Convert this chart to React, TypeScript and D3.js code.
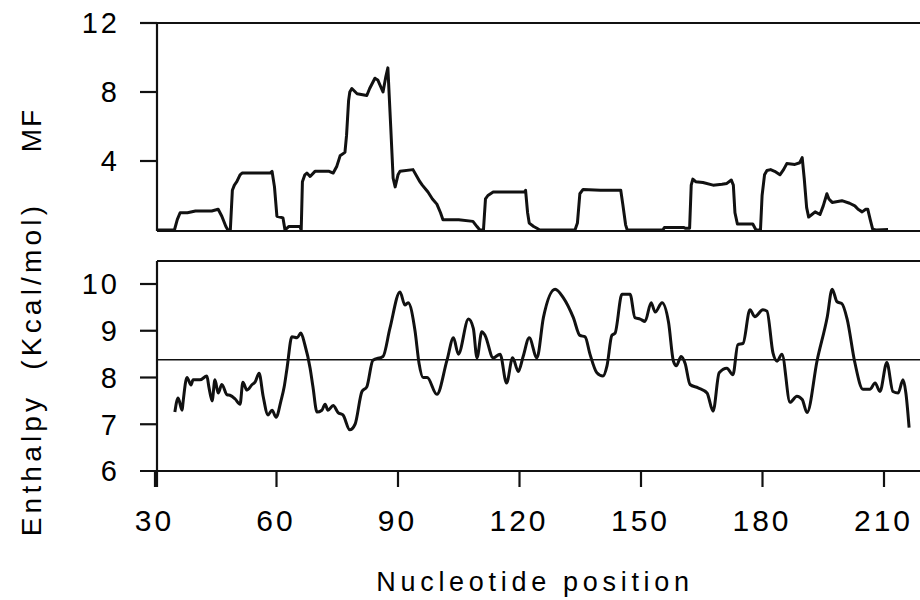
import React from "react";
import * as d3 from "d3";

// ---- Data ----
const xTicks = [30, 60, 90, 120, 150, 180, 210];
const mfTicks = [4, 8, 12];
const enthTicks = [6, 7, 8, 9, 10];
const enthalpyMean = 8.38;

const mfPos = [
  30.5, 34.8, 35.5, 36.2, 38, 40, 44, 45.6, 46.5, 47.5, 48, 48.6, 49.1, 49.6, 50.2, 51.0, 51.5, 55, 58.4, 58.9,
  59.5, 60.1, 61.6, 62.1, 63, 65.8, 66.1, 66.4, 67, 67.5, 68.3, 69.5, 73, 74, 74.9, 75.7, 76.9, 77.3, 77.8, 78.1,
  78.6, 79.9, 82.3, 83, 84.3, 85, 86.3, 87, 87.5, 88.2, 88.8, 89.3, 90, 90.5, 93.7, 95.4, 96, 97.4, 98.5, 99.6,
  100.5, 101.1, 105, 108.5, 109.5, 110.2, 111.1, 111.6, 112.2, 113.5, 117, 121.2, 121.5, 122, 122.4, 123.5, 124.3, 125, 133.7, 134.3,
  134.9, 135.7, 140, 145, 145.5, 146.2, 146.6, 155.4, 155.8, 160.5, 161, 162, 162.4, 162.8, 163.5, 165.3, 167.8, 170,
  171.2, 172.3, 172.8, 173.2, 173.8, 175, 177.6, 178.4, 179.5, 179.9, 180.5, 181.1, 182, 183, 184.3, 185.2, 186, 188, 189.2, 189.8,
  190.3, 190.9, 191.4, 192.2, 193, 194.2, 195, 195.9, 196.4, 197.2, 199.6, 201.5, 202.8, 203.6, 204.6, 205.5, 206, 206.6, 207.2, 208, 211,
];
const mfVal = [
  0, 0, 0.6, 1.0, 1.0, 1.1, 1.1, 1.2, 0.8, 0.2, 0, 0, 2.3, 2.6, 2.8, 3.2, 3.3, 3.3, 3.3, 3.4,
  2.5, 0.8, 0.7, 0, 0.2, 0.2, 0, 2.8, 3.2, 3.3, 3.1, 3.4, 3.4, 3.3, 3.7, 4.3, 4.5, 5.5, 7.5, 8.0,
  8.2, 7.9, 7.8, 8.2, 8.8, 8.7, 8.0, 8.9, 9.4, 6.0, 3.0, 2.5, 3.2, 3.4, 3.5, 2.8, 2.6, 2.2, 1.8, 1.5,
  1.0, 0.6, 0.6, 0.5, 0.2, 0, 0, 1.8, 2.0, 2.2, 2.2, 2.2, 2.3, 1.0, 0.4, 0.2, 0.1, 0, 0, 0.4,
  2.1, 2.35, 2.3, 2.3, 1.5, 0.3, 0, 0, 0.15, 0.15, 0.1, 0.1, 2.6, 2.95, 2.8, 2.75, 2.6, 2.65,
  2.7, 2.9, 2.6, 1.0, 0.35, 0.35, 0.35, 0, 0, 2.0, 3.2, 3.45, 3.5, 3.4, 3.2, 3.5, 3.85, 3.8, 3.9, 4.2,
  3.0, 1.3, 0.75, 0.9, 1.05, 0.9, 1.4, 2.1, 1.8, 1.6, 1.7, 1.55, 1.4, 1.2, 1.05, 1.2, 1.2, 0.6, 0.05, 0, 0.03,
];

const enthPos = [
  34.9, 35.7, 36.7, 36.9, 37.9, 38.9, 39.4, 41.1, 42.8, 43.3, 44.1, 44.8, 45.6, 46.5, 47.8, 48.5, 49.8, 51.0, 51.7, 52.7,
  54.0, 54.7, 55.7, 56.7, 57.9, 58.9, 59.9, 61.1, 61.9, 62.6, 63.8, 65.1, 66.0, 67.0, 68.3, 69.0, 70.0, 71.2, 72.0, 72.7,
  74.0, 75.2, 76.4, 78.1, 79.4, 81.1, 82.3, 83.8, 86.3, 88.0, 90.5, 91.7, 92.5, 94.2, 95.2, 96.2, 97.2, 99.6, 102.1, 103.7,
  104.9, 107.4, 108.6, 109.5, 110.7, 111.5, 113.5, 115.2, 116.8, 118.3, 119.7, 120.9, 122.4, 124.3, 125.9, 128.8, 130.8, 133.3, 134.9, 136.2,
  137.4, 139.1, 140.6, 141.6, 142.8, 143.6, 145.3, 147.3, 148.5, 149.8, 151.0, 152.5, 153.5, 155.2, 156.8, 158.0, 158.7, 159.9, 160.9, 162.1,
  164.1, 166.3, 167.8, 169.3, 171.2, 172.7, 173.9, 175.2, 176.9, 178.1, 180.1, 181.1, 182.6, 183.6, 184.8, 186.8, 188.5, 189.8, 191.0, 193.5,
  196.0, 197.2, 198.4, 199.6, 200.9, 202.8, 204.8, 206.5, 207.8, 209.0, 210.7, 212.2, 213.5, 214.7, 215.4, 216.2,
];
const enthVal = [
  7.26, 7.56, 7.3, 7.45, 8.0, 7.84, 7.95, 7.95, 8.03, 7.8, 7.5, 7.95, 7.67, 7.85, 7.63, 7.62, 7.54, 7.43, 7.9, 7.73,
  7.85, 7.9, 8.09, 7.6, 7.2, 7.3, 7.15, 7.5, 7.8, 8.2, 8.87, 8.85, 8.95, 8.7, 8.2, 7.8, 7.26, 7.3, 7.43, 7.3,
  7.4, 7.25, 7.2, 6.88, 7.0, 7.7, 7.8, 8.37, 8.45, 9.05, 9.83, 9.55, 9.6, 9.0, 8.3, 8.0, 8.0, 7.64, 8.37, 8.85,
  8.5, 9.25, 9.05, 8.42, 8.98, 8.9, 8.42, 8.5, 7.88, 8.42, 8.13, 8.45, 8.85, 8.42, 9.28, 9.89, 9.71, 9.28, 8.9, 8.87,
  8.5, 8.1, 8.03, 8.25, 8.9, 8.95, 9.78, 9.78, 9.28, 9.25, 9.2, 9.6, 9.4, 9.6, 9.18, 8.35, 8.25, 8.45, 8.3, 7.85,
  7.78, 7.67, 7.28, 8.1, 8.2, 8.06, 8.7, 8.73, 9.45, 9.3, 9.45, 9.42, 8.52, 8.35, 8.5, 7.47, 7.6, 7.53, 7.25, 8.37,
  9.3, 9.89, 9.62, 9.58, 9.25, 8.32, 7.75, 7.75, 7.88, 7.7, 8.32, 7.7, 7.67, 7.95, 7.67, 6.93,
];

const FONT = "'Liberation Sans', Arial, Helvetica, sans-serif";

export default function App() {
  const W = 920;
  const H = 600;
  const left = 157;
  const right = 920;
  const tickLen = 17;

  const x = d3.scaleLinear().domain([30, 210]).range([155, 884]);

  const yMF = d3.scaleLinear().domain([0, 12]).range([230, 23]);
  const yEn = d3.scaleLinear().domain([6, 10]).range([471, 284]);
  const enTop = 261;

  const mfData = mfPos.map((p, i) => [p, mfVal[i]] as [number, number]);
  const enData = enthPos.map((p, i) => [p, enthVal[i]] as [number, number]);

  const mfLine = d3
    .line<[number, number]>()
    .x((d) => x(d[0]))
    .y((d) => yMF(d[1]))
    .curve(d3.curveLinear);
  const enLine = d3
    .line<[number, number]>()
    .x((d) => x(d[0]))
    .y((d) => yEn(d[1]))
    .curve(d3.curveMonotoneX);

  const lineColor = "#111";
  const ls = 3;

  return (
    <svg
      width={W}
      height={H}
      viewBox={`0 0 ${W} ${H}`}
      style={{ position: "absolute", left: 0, top: 0, background: "#fff" }}
    >
      <rect x={0} y={0} width={W} height={H} fill="#fff" />

      {/* ---- Top panel (MF) ---- */}
      <g stroke={lineColor} strokeWidth={2.2} fill="none">
        <line x1={left} x2={right} y1={yMF(12)} y2={yMF(12)} />
        <line x1={left} x2={left} y1={yMF(12)} y2={231} />
        <line x1={left} x2={right} y1={231} y2={231} />
        {mfTicks.map((t) => (
          <line key={t} x1={left - tickLen} x2={left} y1={yMF(t)} y2={yMF(t)} />
        ))}
      </g>
      {mfTicks.map((t) => (
        <text
          key={t}
          x={117 + ls}
          y={yMF(t)}
          dy="0.36em"
          textAnchor="end"
          fontFamily={FONT}
          fontSize={29}
          letterSpacing={ls}
          fill="#000"
        >
          {t}
        </text>
      ))}
      <path d={mfLine(mfData) || ""} fill="none" stroke={lineColor} strokeWidth={3} strokeLinejoin="round" />

      {/* ---- Bottom panel (Enthalpy) ---- */}
      <g stroke={lineColor} strokeWidth={2.2} fill="none">
        <line x1={left} x2={right} y1={enTop} y2={enTop} />
        <line x1={left} x2={left} y1={enTop} y2={yEn(6) + 16} />
        <line x1={left - tickLen} x2={right} y1={yEn(6)} y2={yEn(6)} />
        {enthTicks
          .filter((t) => t !== 6)
          .map((t) => (
            <line key={t} x1={left - tickLen} x2={left} y1={yEn(t)} y2={yEn(t)} />
          ))}
        {xTicks.map((t) => (
          <line key={t} x1={x(t)} x2={x(t)} y1={yEn(6)} y2={yEn(6) + 16} />
        ))}
      </g>
      <line
        x1={left}
        x2={right}
        y1={yEn(enthalpyMean)}
        y2={yEn(enthalpyMean)}
        stroke={lineColor}
        strokeWidth={1.6}
      />
      {enthTicks.map((t) => (
        <text
          key={t}
          x={117 + ls}
          y={yEn(t)}
          dy="0.36em"
          textAnchor="end"
          fontFamily={FONT}
          fontSize={29}
          letterSpacing={ls}
          fill="#000"
        >
          {t}
        </text>
      ))}
      <path d={enLine(enData) || ""} fill="none" stroke={lineColor} strokeWidth={3} strokeLinejoin="round" />

      {/* ---- X tick labels ---- */}
      {xTicks.map((t) => (
        <text
          key={t}
          x={x(t) + ls / 2 - 2}
          y={531}
          textAnchor="middle"
          fontFamily={FONT}
          fontSize={30}
          letterSpacing={ls}
          fill="#000"
        >
          {t}
        </text>
      ))}

      {/* ---- Axis titles ---- */}
      <text
        x={535}
        y={591}
        textAnchor="middle"
        fontFamily={FONT}
        fontSize={27}
        letterSpacing={4.7}
        fill="#000"
      >
        Nucleotide position
      </text>
      <text
        transform={`translate(41, 130) rotate(-90)`}
        textAnchor="middle"
        fontFamily={FONT}
        fontSize={28}
        letterSpacing={2}
        fill="#000"
      >
        MF
      </text>
      <text
        transform={`translate(41, 369) rotate(-90)`}
        textAnchor="middle"
        fontFamily={FONT}
        fontSize={28}
        letterSpacing={4.2}
        fill="#000"
        style={{ whiteSpace: "pre" }}
      >
        {"Enthalpy  (Kcal/mol)"}
      </text>
    </svg>
  );
}
